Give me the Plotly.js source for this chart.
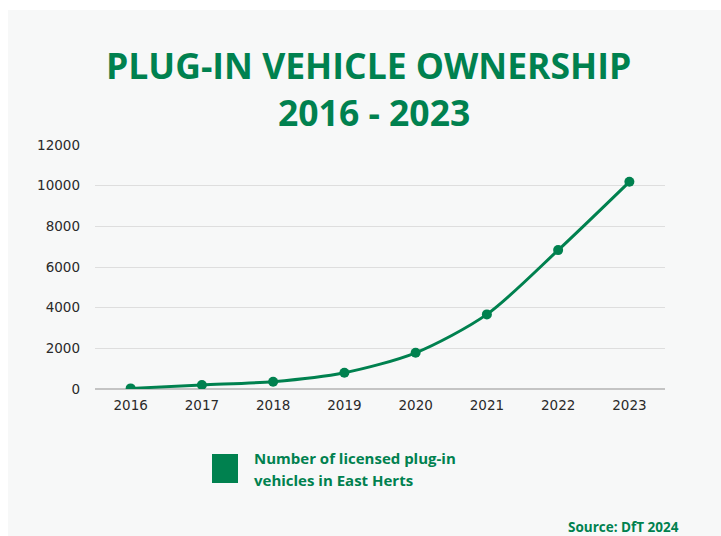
<!DOCTYPE html>
<html>
<head>
<meta charset="utf-8">
<script src="https://cdn.plot.ly/plotly-3.0.1.min.js"></script>
<style>html,body{margin:0;padding:0;background:#fff;}#chart{width:721px;height:536px;}</style>
</head>
<body>
<div id="chart"></div>
<script>
const years = ["2016", "2017", "2018", "2019", "2020", "2021", "2022", "2023"];
const vehicles = [30, 200, 360, 800, 1780, 3670, 6830, 10190];
const yTicks = [0, 2000, 4000, 6000, 8000, 10000, 12000];
const titleLines = ["PLUG-IN VEHICLE OWNERSHIP", "2016 - 2023"];
const legendLines = ["Number of licensed plug-in", "vehicles in East Herts"];
const sourceText = "Source: DfT 2024";

const green = "#00814f";
const L = 95, R = 665, T = 145, B = 389;
const px = x => (x - L) / (R - L);
const py = y => (B - y) / (B - T);

const trace = {
  x: years, y: vehicles, type: "scatter", mode: "lines+markers",
  line: {color: green, width: 3, shape: "spline", smoothing: 0.8},
  marker: {color: green, size: 10},
  showlegend: false, hoverinfo: "x+y"
};

const tickFont = {family: "DejaVu Sans", size: 13.5, color: "#2a2a2a", weight: 500};

const layout = {
  width: 721, height: 536,
  margin: {l: L, r: 721 - R, t: T, b: 536 - B},
  paper_bgcolor: "#ffffff", plot_bgcolor: "rgba(0,0,0,0)",
  showlegend: false,
  xaxis: {
    type: "category", range: [-0.5, 7.5], showgrid: false, zeroline: false,
    showline: false, ticks: "", ticklabelstandoff: 6, tickfont: tickFont
  },
  yaxis: {
    range: [0, 12000], tickvals: yTicks, ticktext: yTicks.map(String),
    showgrid: true, gridcolor: "#dedede", gridwidth: 1,
    zeroline: true, zerolinecolor: "#c4c4c4", zerolinewidth: 1.5,
    ticks: "", ticklabelstandoff: 14, tickfont: tickFont
  },
  shapes: [
    {type: "rect", xref: "paper", yref: "paper", layer: "below",
     x0: px(8), x1: px(721), y0: py(536), y1: py(10),
     fillcolor: "#f7f8f8", line: {width: 0}},
    {type: "rect", xref: "paper", yref: "paper",
     x0: px(212), x1: px(238), y0: py(483), y1: py(454),
     fillcolor: green, line: {width: 0}}
  ],
  annotations: [
    {text: "<b>" + titleLines[0] + "</b>", xref: "paper", yref: "paper", x: px(368), y: py(65),
     xanchor: "center", yanchor: "middle", showarrow: false,
     font: {family: "Open Sans", size: 35.5, color: green}},
    {text: "<b>" + titleLines[1] + "</b>", xref: "paper", yref: "paper", x: px(374), y: py(112),
     xanchor: "center", yanchor: "middle", showarrow: false,
     font: {family: "Open Sans", size: 35.5, color: green}},
    {text: legendLines[0], xref: "paper", yref: "paper", x: px(252), y: py(458),
     xanchor: "left", yanchor: "middle", showarrow: false,
     font: {family: "Open Sans", size: 15, color: green, weight: 700}},
    {text: legendLines[1], xref: "paper", yref: "paper", x: px(252), y: py(480),
     xanchor: "left", yanchor: "middle", showarrow: false,
     font: {family: "Open Sans", size: 15, color: green, weight: 700}},
    {text: "<b>" + sourceText + "</b>", xref: "paper", yref: "paper", x: px(681), y: py(527),
     xanchor: "right", yanchor: "middle", showarrow: false,
     font: {family: "Open Sans", size: 13.5, color: green}}
  ]
};

Plotly.newPlot("chart", [trace], layout, {displayModeBar: false, staticPlot: true});
</script>
</body>
</html>
